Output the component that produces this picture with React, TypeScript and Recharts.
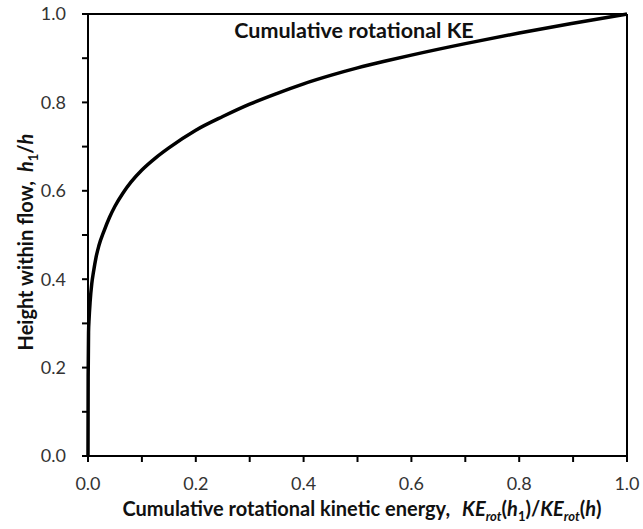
import { LineChart, Line, XAxis, YAxis, ReferenceLine, Label } from "recharts";

// Data: cumulative KE fraction (x) vs height fraction (y)
const cumulativeKE = [
  0, 0.0003, 0.001, 0.002, 0.004, 0.007, 0.01, 0.015, 0.02, 0.03, 0.04, 0.05, 0.065, 0.08,
  0.1, 0.125, 0.15, 0.2, 0.25, 0.3, 0.35, 0.4, 0.45, 0.5, 0.55, 0.6, 0.7, 0.8, 0.9, 1.0,
];
const heightRatio = [
  0, 0.18, 0.28, 0.31, 0.35, 0.39, 0.415, 0.45, 0.475, 0.51, 0.54, 0.565, 0.595, 0.62,
  0.647, 0.674, 0.697, 0.737, 0.768, 0.796, 0.82, 0.842, 0.861, 0.878, 0.893, 0.907, 0.933, 0.957, 0.979, 1.0,
];
const axisTicks = [0, 0.1, 0.2, 0.3, 0.4, 0.5, 0.6, 0.7, 0.8, 0.9, 1.0];

const data = cumulativeKE.map((x, i) => ({ x, y: heightRatio[i] }));

const FONT = "Lato, 'Open Sans', sans-serif";

// only label the even tenths, odd ones are minor ticks
const fmt = (v: number) => (Math.round(v * 10) % 2 === 0 ? v.toFixed(1) : "");

export default function App() {
  return (
    <div style={{ position: "absolute", left: 0, top: 0, background: "#fff" }}>
      <LineChart
        width={643}
        height={529}
        data={data}
        margin={{ top: 14, right: 16, left: 0, bottom: 0 }}
        style={{ fontFamily: FONT }}
      >
        <XAxis
          dataKey="x"
          type="number"
          domain={[0, 1]}
          ticks={axisTicks}
          tickFormatter={fmt}
          interval={0}
          height={73}
          tickSize={6}
          tickMargin={15}
          stroke="#000"
          strokeWidth={2}
          tick={{ fill: "#333", fontSize: 18 }}
        >
          <Label
            content={() => (
              <text x={362} y={516} textAnchor="middle" fontSize={20} fontWeight={700} fill="#111">
                <tspan>Cumulative rotational kinetic energy,</tspan>
                <tspan fontStyle="italic" dx={12}>KE</tspan>
                <tspan fontStyle="italic" fontSize={13} dy={5}>rot</tspan>
                <tspan dy={-5}>(</tspan>
                <tspan fontStyle="italic">h</tspan>
                <tspan fontSize={13} dy={5}>1</tspan>
                <tspan dy={-5}>)/</tspan>
                <tspan fontStyle="italic">KE</tspan>
                <tspan fontStyle="italic" fontSize={13} dy={5}>rot</tspan>
                <tspan dy={-5}>(</tspan>
                <tspan fontStyle="italic">h</tspan>
                <tspan>)</tspan>
              </text>
            )}
          />
        </XAxis>
        <YAxis
          dataKey="y"
          type="number"
          domain={[0, 1]}
          ticks={axisTicks}
          tickFormatter={fmt}
          interval={0}
          width={88}
          tickSize={6}
          tickMargin={16}
          stroke="#000"
          strokeWidth={2}
          tick={{ fill: "#333", fontSize: 18 }}
        >
          <Label
            content={() => (
              <text
                x={33}
                y={242}
                transform="rotate(-90 33 242)"
                textAnchor="middle"
                fontSize={20}
                fontWeight={700}
                fill="#111"
              >
                <tspan>Height within flow,</tspan>
                <tspan fontStyle="italic" dx={9}>h</tspan>
                <tspan fontSize={13} dy={5}>1</tspan>
                <tspan dy={-5}>/</tspan>
                <tspan fontStyle="italic">h</tspan>
              </text>
            )}
          />
        </YAxis>
        <ReferenceLine y={1} stroke="#000" strokeWidth={2} />
        <ReferenceLine x={1} stroke="#000" strokeWidth={2} />
        <Line
          type="monotone"
          dataKey="y"
          stroke="#000"
          strokeWidth={3.5}
          dot={false}
          isAnimationActive={false}
        />
        <text x={354} y={38} textAnchor="middle" fontSize={21.5} fontWeight={700} fill="#111" fontFamily={FONT}>
          Cumulative rotational KE
        </text>
      </LineChart>
    </div>
  );
}
